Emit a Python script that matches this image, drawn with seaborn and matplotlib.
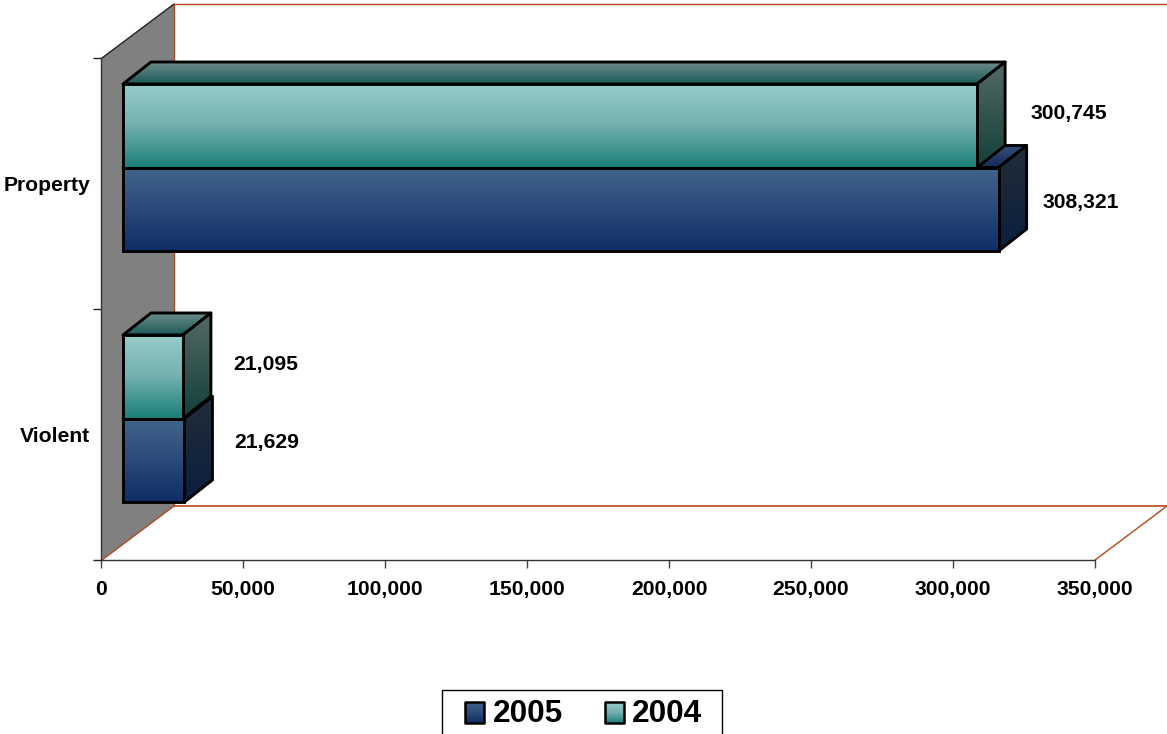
import matplotlib
matplotlib.use("Agg")
import matplotlib.pyplot as plt
import seaborn as sns
import pandas as pd
import numpy as np
from matplotlib.colors import LinearSegmentedColormap
from matplotlib.patches import Polygon, Rectangle
from matplotlib.transforms import Affine2D

# Data
categories = ["Property", "Violent"]
years = ["2004", "2005"]
values_2004 = [300745, 21095]
values_2005 = [308321, 21629]
x_ticks = [0, 50000, 100000, 150000, 200000, 250000, 300000, 350000]

df = pd.DataFrame({
    "Type": categories * 2,
    "Year": ["2004"] * 2 + ["2005"] * 2,
    "Offenses": values_2004 + values_2005,
})

W, H = 1167, 734
BROWN = "#B5481C"

# colours of each face, top to bottom
faces = {
    "2004": {"front": ("#97CDCB", "#73B0AE", "#1B8078"), "top": ("#6C8C8C", "#1B5A56"), "side": ("#546A66", "#143F3A")},
    "2005": {"front": ("#416489", "#2A4A7A", "#0E2E66"), "top": ("#35507A", "#14295A"), "side": ("#222D38", "#0A1E40")},
}
# where the value labels sit, pixels from the bar end (left edge, vertical centre)
label_offsets = {
    ("2004", "Property"): (53, -12), ("2005", "Property"): (44, -7),
    ("2004", "Violent"): (50, -12), ("2005", "Violent"): (50, -18),
}

sns.set_theme(style="white")
plt.rcParams["font.family"] = ["Liberation Sans", "DejaVu Sans"]
plt.rcParams["font.weight"] = "bold"

fig = plt.figure(figsize=(W / 100, H / 100), dpi=100)

# overlay in picture pixels for the 3D faces, sits under the real axes
ov = fig.add_axes([0, 0, 1, 1], zorder=1)
ov.set_axis_off()

ax = fig.add_axes([101 / W, 1 - 560 / H, 994 / W, 502 / H], zorder=2)
ax.patch.set_alpha(0)

sns.barplot(data=df, x="Offenses", y="Type", hue="Year", order=categories,
            hue_order=years, width=167 / 251, gap=0, dodge=True, legend=False, ax=ax)
ax.set_xlim(0, 350000)
ax.set_ylim(1.5, -0.5)
ax.set_xlabel("")
ax.set_ylabel("")

# axes lines and ticks
for side in ["top", "right"]:
    ax.spines[side].set_visible(False)
for side in ["left", "bottom"]:
    ax.spines[side].set_color("#333333")
    ax.spines[side].set_linewidth(1.0)
ax.set_xticks(x_ticks, [f"{t:,}" for t in x_ticks])
ax.set_yticks([-0.5, 0.5, 1.5], [])
ax.set_yticks([0, 1], categories, minor=True)
ax.tick_params(axis="x", which="major", bottom=True, length=6, width=1, color="#444444",
               labelsize=15.2, pad=8.5, labelcolor="black")
ax.tick_params(axis="y", which="major", left=True, length=5.5, width=1, color="#222222")
ax.tick_params(axis="y", which="minor", left=False, length=0, labelsize=15.2, pad=8, labelcolor="black")

fig.canvas.draw()

# walls and floor
ov.set_xlim(0, W)
ov.set_ylim(H, 0)
ov.add_patch(Polygon([(102, 58), (174, 4), (174, 506), (102, 560)], closed=True,
                     facecolor="#808080", edgecolor="none", zorder=1))
ov.plot([174, 1167], [4, 4], color=BROWN, lw=1, zorder=2)
ov.plot([174, 174], [4, 506], color=BROWN, lw=1, zorder=2)
ov.plot([174, 1167], [506, 506], color=BROWN, lw=1.2, zorder=2)
ov.plot([102, 174], [560, 506], color=BROWN, lw=1, zorder=2)
ov.plot([1095, 1167], [560, 506], color=BROWN, lw=1, zorder=2)
ov.plot([102, 174], [58, 4], color="#222222", lw=1, zorder=2)


def shade(pts, colors, z, edge=True, lw=2.1):
    pts = np.array(pts)
    cmap = LinearSegmentedColormap.from_list("f", colors)
    poly = Polygon(pts, closed=True, facecolor="none",
                   edgecolor="black" if edge else "none", lw=lw, joinstyle="round", zorder=z + 0.5)
    ov.add_patch(poly)
    im = ov.imshow(np.linspace(0, 1, 128).reshape(-1, 1), cmap=cmap, aspect="auto", zorder=z,
                   extent=(pts[:, 0].min(), pts[:, 0].max(), pts[:, 1].max(), pts[:, 1].min()))
    im.set_clip_path(poly)


# front of the bars sits 22,16 px in from the axes corner, depth is 28,22 px
shift = Affine2D().translate(22, 16)
dx, dy = 28, 22
z = 3
for year_idx in [1, 0]:  # 2005 first, 2004 side covers its top
    year = years[year_idx]
    for patch, cat in zip(ax.containers[year_idx], categories):
        box = patch.get_bbox()
        (x0, y0), (x1, y1) = ax.transData.transform([(box.x0, box.y0), (box.x1, box.y1)])
        x0, x1 = x0 + 22, x1 + 22
        top, bot = sorted([H - y0 - 16, H - y1 - 16])
        c = faces[year]
        shade([(x0, top), (x0 + dx, top - dy), (x1 + dx, top - dy), (x1, top)], c["top"], z)
        shade([(x1, top), (x1 + dx, top - dy), (x1 + dx, bot - dy), (x1, bot)], c["side"], z + 1)
        shade([(x0, top), (x1, top), (x1, bot), (x0, bot)], c["front"], z + 2, edge=False)
        z += 3

        # seaborn bar becomes the outline of the front face
        patch.set_transform(ax.transData + shift)
        patch.set_facecolor("none")
        patch.set_edgecolor("black")
        patch.set_linewidth(2.1)
        patch.set_clip_on(False)

        value = int(box.x1)
        ox, oy = label_offsets[(year, cat)]
        ov.text(x1 + ox, (top + bot) / 2 + oy, f"{value:,}", fontsize=15.2, fontweight="bold",
                color="black", ha="left", va="center", zorder=30)

# legend box, cut by the bottom of the picture
ov.add_patch(Rectangle((441.5, 689.5), 280, 60, facecolor="white", edgecolor="black", lw=1.0, zorder=40))
for year, sx, tx in [("2005", 465, 493), ("2004", 605, 632)]:
    shade([(sx, 702), (sx + 19, 702), (sx + 19, 723), (sx, 723)], faces[year]["front"], 41, lw=1.8)
    ov.text(tx, 714, year, fontsize=22.8, fontweight="bold", color="black",
            ha="left", va="center", zorder=42)

ov.set_xlim(0, W)
ov.set_ylim(H, 0)

fig.savefig("out.png", dpi=100)
